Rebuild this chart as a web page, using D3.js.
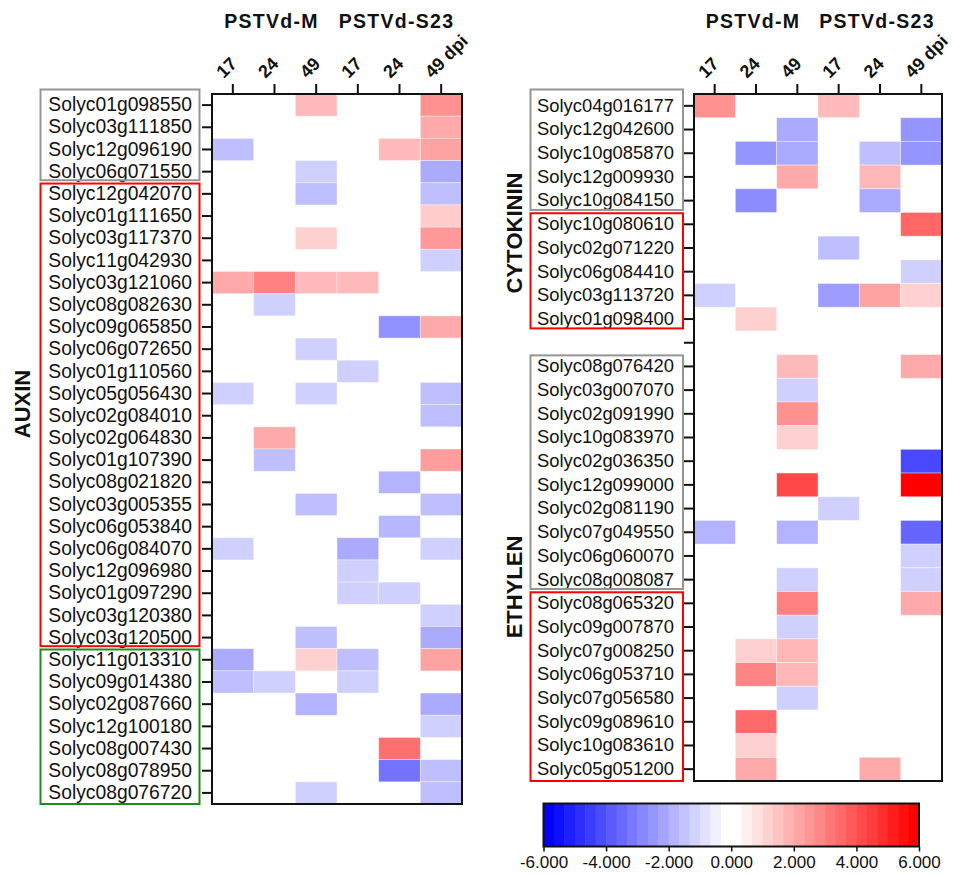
<!DOCTYPE html>
<html>
<head>
<meta charset="utf-8">
<script src="https://cdn.jsdelivr.net/npm/d3@7"></script>
<style>
  body { margin: 0; background: #fff; }
  text { font-family: "Liberation Sans", Arial, sans-serif; fill: #111; font-kerning: none; }
</style>
</head>
<body>
<div id="chart"></div>
<script>
// columns (infection x dpi)
var colKeys = ["M17", "M24", "M49", "S17", "S24", "S49"];
var colLabels = ["17", "24", "49", "17", "24", "49 dpi"];
var groupLabels = ["PSTVd-M", "PSTVd-S23"];

// auxin panel
var auxinGenes = ["Solyc01g098550", "Solyc03g111850", "Solyc12g096190", "Solyc06g071550",
  "Solyc12g042070", "Solyc01g111650", "Solyc03g117370", "Solyc11g042930", "Solyc03g121060",
  "Solyc08g082630", "Solyc09g065850", "Solyc06g072650", "Solyc01g110560", "Solyc05g056430",
  "Solyc02g084010", "Solyc02g064830", "Solyc01g107390", "Solyc08g021820", "Solyc03g005355",
  "Solyc06g053840", "Solyc06g084070", "Solyc12g096980", "Solyc01g097290", "Solyc03g120380",
  "Solyc03g120500", "Solyc11g013310", "Solyc09g014380", "Solyc02g087660", "Solyc12g100180",
  "Solyc08g007430", "Solyc08g078950", "Solyc08g076720"];
var auxinValues = [
  [0, 0, 1.6, 0, 0, 2.6],
  [0, 0, 0, 0, 0, 2.0],
  [-1.5, 0, 0, 0, 1.6, 2.2],
  [0, 0, -1.1, 0, 0, -2.0],
  [0, 0, -1.5, 0, 0, -1.5],
  [0, 0, 0, 0, 0, 1.2],
  [0, 0, 1.1, 0, 0, 2.4],
  [0, 0, 0, 0, 0, -1.1],
  [2.0, 3.0, 1.6, 1.6, 0, 0],
  [0, -1.1, 0, 0, 0, 0],
  [0, 0, 0, 0, -2.6, 2.0],
  [0, 0, -1.1, 0, 0, 0],
  [0, 0, 0, -1.1, 0, 0],
  [-1.1, 0, -1.1, 0, 0, -1.5],
  [0, 0, 0, 0, 0, -1.5],
  [0, 2.0, 0, 0, 0, 0],
  [0, -1.5, 0, 0, 0, 2.3],
  [0, 0, 0, 0, -1.8, 0],
  [0, 0, -1.5, 0, 0, -1.5],
  [0, 0, 0, 0, -1.7, 0],
  [-1.1, 0, 0, -2.0, 0, -1.1],
  [0, 0, 0, -1.1, 0, 0],
  [0, 0, 0, -1.1, -1.1, 0],
  [0, 0, 0, 0, 0, -1.1],
  [0, 0, -1.5, 0, 0, -2.0],
  [-2.0, 0, 1.1, -1.5, 0, 2.2],
  [-1.5, -1.1, 0, -1.1, 0, 0],
  [0, 0, -1.8, 0, 0, -2.0],
  [0, 0, 0, 0, 0, -1.1],
  [0, 0, 0, 0, 3.4, 0],
  [0, 0, 0, 0, -3.3, -1.5],
  [0, 0, -1.1, 0, 0, -1.5]];
// boxes round the labels: [first row, last row, colour]
var auxinBoxes = [[0, 3, "#959595"], [4, 24, "#ff0000"], [25, 31, "#1f8a1f"]];

// cytokinin + ethylen panel (empty string = blank spacer row)
var ceGenes = ["Solyc04g016177", "Solyc12g042600", "Solyc10g085870", "Solyc12g009930",
  "Solyc10g084150", "Solyc10g080610", "Solyc02g071220", "Solyc06g084410", "Solyc03g113720",
  "Solyc01g098400", "", "Solyc08g076420", "Solyc03g007070", "Solyc02g091990", "Solyc10g083970",
  "Solyc02g036350", "Solyc12g099000", "Solyc02g081190", "Solyc07g049550", "Solyc06g060070",
  "Solyc08g008087", "Solyc08g065320", "Solyc09g007870", "Solyc07g008250", "Solyc06g053710",
  "Solyc07g056580", "Solyc09g089610", "Solyc10g083610", "Solyc05g051200"];
var ceValues = [
  [2.6, 0, 0, 1.6, 0, 0],
  [0, 0, -2.0, 0, 0, -2.5],
  [0, -2.5, -2.0, 0, -1.5, -2.5],
  [0, 0, 2.0, 0, 1.7, 0],
  [0, -2.7, 0, 0, -2.0, 0],
  [0, 0, 0, 0, 0, 3.6],
  [0, 0, 0, -1.5, 0, 0],
  [0, 0, 0, 0, 0, -1.1],
  [-1.1, 0, 0, -2.3, 2.2, 1.1],
  [0, 1.1, 0, 0, 0, 0],
  [0, 0, 0, 0, 0, 0],
  [0, 0, 1.6, 0, 0, 2.0],
  [0, 0, -1.1, 0, 0, 0],
  [0, 0, 2.6, 0, 0, 0],
  [0, 0, 1.1, 0, 0, 0],
  [0, 0, 0, 0, 0, -4.3],
  [0, 0, 4.3, 0, 0, 6.0],
  [0, 0, 0, -1.1, 0, 0],
  [-1.8, 0, -1.8, 0, 0, -3.6],
  [0, 0, 0, 0, 0, -1.1],
  [0, 0, -1.1, 0, 0, -1.1],
  [0, 0, 3.0, 0, 0, 2.0],
  [0, 0, -1.1, 0, 0, 0],
  [0, 1.1, 1.7, 0, 0, 0],
  [0, 2.9, 1.7, 0, 0, 0],
  [0, 0, -1.1, 0, 0, 0],
  [0, 3.5, 0, 0, 0, 0],
  [0, 1.1, 0, 0, 0, 0],
  [0, 2.0, 0, 0, 2.0, 0]];
var ceBoxes = [[0, 4, "#959595"], [5, 9, "#ff0000"], [11, 20, "#959595"], [21, 28, "#ff0000"]];

// colour bar
var legendTicks = [-6, -4, -2, 0, 2, 4, 6];

var W = 954, H = 874;
var svg = d3.select("#chart")
  .append("svg")
    .attr("width", W)
    .attr("height", H);

var color = d3.scaleLinear()
  .domain([-6, 0, 6])
  .range(["#0000ff", "#ffffff", "#ff0000"])
  .clamp(true);

function panel(opt) {
  var g = svg.append("g");

  var x = d3.scaleBand()
    .domain(colKeys)
    .range([opt.x0, opt.x1]);
  var y = d3.scaleBand()
    .domain(d3.range(opt.genes.length))
    .range([opt.y0, opt.y1]);

  // cells
  var cells = [];
  opt.values.forEach(function(row, i) {
    row.forEach(function(v, j) {
      if (v !== 0) cells.push({row: i, col: colKeys[j], v: v});
    });
  });
  g.selectAll("rect.cell")
    .data(cells)
    .enter()
    .append("rect")
      .attr("class", "cell")
      .attr("x", function(d) { return x(d.col); })
      .attr("y", function(d) { return y(d.row); })
      .attr("width", x.bandwidth())
      .attr("height", y.bandwidth())
      .attr("fill", function(d) { return color(d.v); })
      .attr("stroke", "#ffffff")
      .attr("stroke-opacity", 0.45)
      .attr("stroke-width", 0.8);

  // frame
  g.append("rect")
    .attr("x", opt.x0)
    .attr("y", opt.y0)
    .attr("width", opt.x1 - opt.x0)
    .attr("height", opt.y1 - opt.y0)
    .attr("fill", "none")
    .attr("stroke", "#111")
    .attr("stroke-width", 2);

  // left axis with gene names
  var ya = g.append("g")
    .attr("transform", "translate(" + opt.x0 + ",0)")
    .call(d3.axisLeft(y)
      .tickSize(10)
      .tickPadding(10)
      .tickFormat(function(i) { return opt.genes[i]; }));
  ya.select(".domain").remove();
  ya.selectAll(".tick line").attr("stroke", "#111").attr("stroke-width", 2);
  ya.selectAll("text")
    .attr("fill", "#111")
    .style("font-family", "'Liberation Sans', Arial, sans-serif")
    .style("font-kerning", "none")
    .style("font-size", opt.labelSize + "px");

  // top axis ticks
  var xa = g.append("g")
    .attr("transform", "translate(0," + opt.y0 + ")")
    .call(d3.axisTop(x).tickSize(10).tickFormat(""));
  xa.select(".domain").remove();
  xa.selectAll(".tick line").attr("stroke", "#111").attr("stroke-width", 2);

  // rotated dpi labels
  g.selectAll("text.collab")
    .data(colKeys)
    .enter()
    .append("text")
      .attr("class", "collab")
      .attr("transform", function(d) {
        return "translate(" + (x(d) + x.bandwidth() / 2 - 9) + "," + (opt.y0 - 15) + ") rotate(-45)";
      })
      .style("font-size", "18px")
      .style("font-weight", "bold")
      .text(function(d, i) { return colLabels[i]; });

  // group headers
  g.selectAll("text.group")
    .data(groupLabels)
    .enter()
    .append("text")
      .attr("class", "group")
      .attr("x", function(d, i) { return x(colKeys[i * 3 + 1]) + x.bandwidth() / 2 - 3; })
      .attr("y", 28)
      .attr("text-anchor", "middle")
      .style("font-size", "19.5px")
      .style("font-weight", "bold")
      .style("letter-spacing", "1.3px")
      .text(function(d) { return d; });

  // coloured boxes round label groups
  g.selectAll("rect.box")
    .data(opt.boxes)
    .enter()
    .append("rect")
      .attr("class", "box")
      .attr("x", opt.boxX0)
      .attr("width", opt.boxX1 - opt.boxX0)
      .attr("y", function(d) { return y(d[0]) + (d[0] === 0 ? -4.5 : 0.8); })
      .attr("height", function(d) {
        var top = y(d[0]) + (d[0] === 0 ? -4.5 : 0.8);
        var bot = y(d[1]) + y.bandwidth() - (d[1] === opt.genes.length - 1 ? 0 : 2.5);
        return bot - top;
      })
      .attr("fill", "none")
      .attr("stroke", function(d) { return d[2]; })
      .attr("stroke-width", 2);

  // category titles
  g.selectAll("text.cat")
    .data(opt.cats)
    .enter()
    .append("text")
      .attr("class", "cat")
      .attr("transform", function(d) {
        return "translate(" + opt.catX + "," + d[1] + ") rotate(-90)";
      })
      .attr("text-anchor", "middle")
      .style("font-size", "22px")
      .style("font-weight", "bold")
      .text(function(d) { return d[0]; });
}

panel({
  genes: auxinGenes, values: auxinValues, boxes: auxinBoxes,
  x0: 212, x1: 462, y0: 94, y1: 804,
  boxX0: 40.5, boxX1: 199.5, labelSize: 19.3,
  catX: 30, cats: [["AUXIN", 404]]
});

panel({
  genes: ceGenes, values: ceValues, boxes: ceBoxes,
  x0: 694, x1: 942, y0: 94, y1: 781,
  boxX0: 530.5, boxX1: 683, labelSize: 18.4,
  catX: 522, cats: [["CYTOKININ", 233], ["ETHYLEN", 587]]
});

// colour bar
var lx = d3.scaleLinear().domain([-6, 6]).range([543.5, 919]);
var nSteps = 36;
var stepW = (lx(6) - lx(-6)) / nSteps;
var half = nSteps / 2;
var leg = svg.append("g");
leg.selectAll("rect.step")
  .data(d3.range(nSteps))
  .enter()
  .append("rect")
    .attr("class", "step")
    .attr("x", function(i) { return lx(-6) + i * stepW; })
    .attr("y", 803.5)
    .attr("width", stepW + 0.5)
    .attr("height", 43)
    .attr("fill", function(i) {
      var k = i < half ? -(half - 1 - i) : (i - half);
      return color(k * 6 / (half - 1));
    });
leg.append("rect")
  .attr("x", lx(-6))
  .attr("y", 803.5)
  .attr("width", lx(6) - lx(-6))
  .attr("height", 43)
  .attr("fill", "none")
  .attr("stroke", "#111")
  .attr("stroke-width", 2);

var la = leg.append("g")
  .attr("transform", "translate(0,846.5)")
  .call(d3.axisBottom(lx)
    .tickValues(legendTicks)
    .tickSize(5)
    .tickPadding(4)
    .tickFormat(function(d) { return d3.format(".3f")(d).replace("\u2212", "-"); }));
la.select(".domain").remove();
la.selectAll(".tick line").attr("stroke", "#111").attr("stroke-width", 1.5);
la.selectAll("text")
  .attr("fill", "#111")
  .style("font-family", "'Liberation Sans', Arial, sans-serif")
  .style("font-size", "17px");
</script>
</body>
</html>
